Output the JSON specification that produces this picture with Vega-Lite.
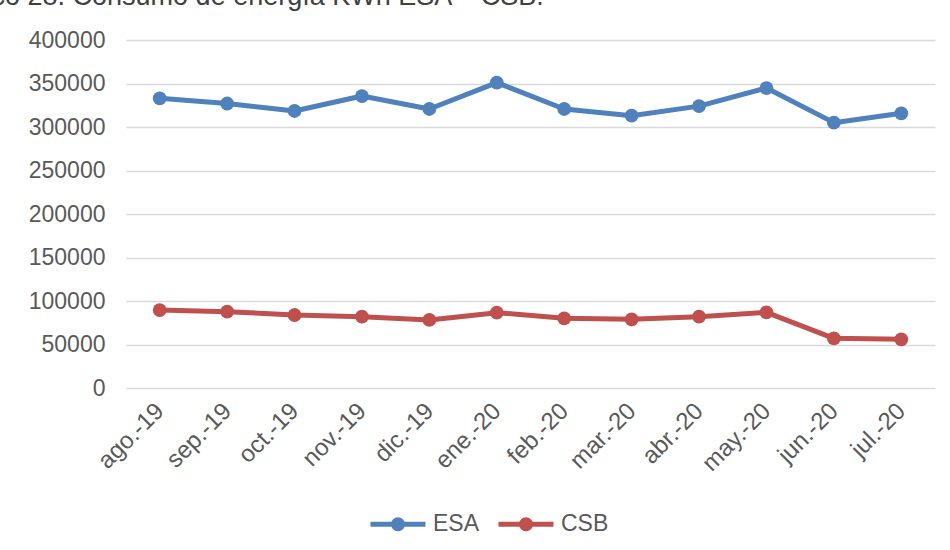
{
  "$schema": "https://vega.github.io/schema/vega-lite/v6.json",
  "autosize": "none",
  "width": 809,
  "height": 348,
  "padding": {"left": 126, "top": 40, "right": 15, "bottom": 162},
  "background": "white",
  "title": {
    "text": "Gráfico 28. Consumo de energía KWh ESA – CSB.",
    "anchor": "start",
    "frame": "group",
    "dx": -193,
    "offset": -3,
    "baseline": "alphabetic",
    "font": "Liberation Sans",
    "fontSize": 27,
    "fontWeight": "normal",
    "color": "#404040"
  },
  "data": {
    "values": [
      {"mes": "ago.-19", "serie": "ESA", "valor": 333000},
      {"mes": "sep.-19", "serie": "ESA", "valor": 327000},
      {"mes": "oct.-19", "serie": "ESA", "valor": 318400},
      {"mes": "nov.-19", "serie": "ESA", "valor": 335600},
      {"mes": "dic.-19", "serie": "ESA", "valor": 320700},
      {"mes": "ene.-20", "serie": "ESA", "valor": 351000},
      {"mes": "feb.-20", "serie": "ESA", "valor": 320700},
      {"mes": "mar.-20", "serie": "ESA", "valor": 313000},
      {"mes": "abr.-20", "serie": "ESA", "valor": 324000},
      {"mes": "may.-20", "serie": "ESA", "valor": 344800},
      {"mes": "jun.-20", "serie": "ESA", "valor": 305000},
      {"mes": "jul.-20", "serie": "ESA", "valor": 315700},
      {"mes": "ago.-19", "serie": "CSB", "valor": 89600},
      {"mes": "sep.-19", "serie": "CSB", "valor": 87700},
      {"mes": "oct.-19", "serie": "CSB", "valor": 83900},
      {"mes": "nov.-19", "serie": "CSB", "valor": 82000},
      {"mes": "dic.-19", "serie": "CSB", "valor": 78200},
      {"mes": "ene.-20", "serie": "CSB", "valor": 86600},
      {"mes": "feb.-20", "serie": "CSB", "valor": 80100},
      {"mes": "mar.-20", "serie": "CSB", "valor": 79000},
      {"mes": "abr.-20", "serie": "CSB", "valor": 82000},
      {"mes": "may.-20", "serie": "CSB", "valor": 87000},
      {"mes": "jun.-20", "serie": "CSB", "valor": 57100},
      {"mes": "jul.-20", "serie": "CSB", "valor": 56000}
    ]
  },
  "mark": {
    "type": "line",
    "strokeWidth": 5,
    "strokeJoin": "round",
    "strokeCap": "round",
    "point": {"filled": true, "size": 190, "opacity": 1}
  },
  "encoding": {
    "x": {
      "field": "mes",
      "type": "ordinal",
      "sort": null,
      "scale": {"padding": 0.5},
      "axis": {
        "title": null,
        "labelAngle": -45,
        "labelAlign": "right",
        "labelBaseline": "middle",
        "labelPadding": 19,
        "labelFontSize": 24,
        "ticks": false,
        "domain": false,
        "grid": false
      }
    },
    "y": {
      "field": "valor",
      "type": "quantitative",
      "scale": {"domain": [0, 400000], "nice": false},
      "axis": {
        "title": null,
        "values": [0, 50000, 100000, 150000, 200000, 250000, 300000, 350000, 400000],
        "format": "d",
        "ticks": false,
        "domain": false,
        "grid": true,
        "labelPadding": 21
      }
    },
    "color": {
      "field": "serie",
      "type": "nominal",
      "sort": ["ESA", "CSB"],
      "scale": {"domain": ["ESA", "CSB"], "range": ["#4f81bd", "#c0504d"]},
      "legend": {
        "title": null,
        "orient": "none",
        "legendX": 242,
        "legendY": 454,
        "direction": "horizontal",
        "padding": 0,
        "symbolType": "M-1,0L1,0M0.164,0A0.164,0.164,0,1,1,-0.164,0A0.164,0.164,0,1,1,0.164,0M0.073,0A0.073,0.073,0,1,1,-0.073,0A0.073,0.073,0,1,1,0.073,0",
        "symbolSize": 3025,
        "symbolStrokeWidth": 5,
        "symbolOpacity": 1,
        "labelOffset": 5,
        "columnPadding": 8,
        "labelFont": "Liberation Sans",
        "labelFontSize": 23,
        "labelColor": "#595959"
      }
    }
  },
  "config": {
    "view": {"stroke": null},
    "font": "Liberation Sans",
    "axis": {
      "labelFont": "Liberation Sans",
      "labelFontSize": 23,
      "labelColor": "#595959",
      "gridColor": "#d9d9d9",
      "gridWidth": 1.5,
      "gridOpacity": 1
    }
  }
}
